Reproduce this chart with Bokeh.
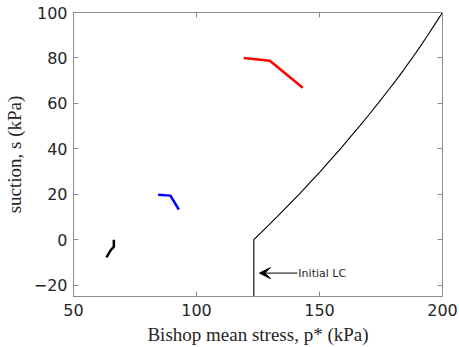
from bokeh.plotting import figure
from bokeh.models import (LinearAxis, FixedTicker, Range1d, Arrow, VeeHead, Label)
from bokeh.embed import file_html
from bokeh.resources import INLINE

# ---- data ----
lc_s = [-25, 0, 5, 10, 15, 20, 25, 30, 35, 40, 45, 50, 55, 60, 65, 70, 75, 80, 85, 90, 95, 100]
lc_p = [123.3, 123.3, 128.0, 132.7, 137.2, 141.7, 146.0, 150.3, 154.4, 158.5, 162.4, 166.3,
        170.1, 173.8, 177.4, 181.0, 184.4, 187.7, 190.9, 194.0, 197.0, 200.0]

red_p = [119.2, 129.8, 143.2]
red_s = [80.0, 78.8, 66.9]

blue_p = [84.4, 89.4, 92.8]
blue_s = [19.8, 19.4, 13.3]

black_p = [66.4, 66.4, 65.2, 63.4]
black_s = [0.0, -3.2, -4.5, -7.8]

x_ticks = [50, 100, 150, 200]
y_ticks = [-20, 0, 20, 40, 60, 80, 100]

annot_text = "Initial LC"
annot_p_tail = 141.0
annot_p_tip = 125.6
annot_s = -14.7

AX = "#8c8c8c"
TICK_FONT = "DejaVu Sans"
LABEL_FONT = "Liberation Serif"

p = figure(width=459, height=347, output_backend="svg", toolbar_location=None,
           x_range=Range1d(50, 200), y_range=Range1d(-25, 100),
           x_axis_label="Bishop mean stress, p* (kPa)",
           y_axis_label="suction, s (kPa)")
p.min_border_left = 73
p.min_border_right = 17
p.min_border_top = 12
p.min_border_bottom = 51
p.xgrid.visible = False
p.ygrid.visible = False
p.outline_line_color = None
p.background_fill_color = "white"
p.border_fill_color = "white"

for ax, ticks in ((p.xaxis[0], x_ticks), (p.yaxis[0], y_ticks)):
    ax.ticker = FixedTicker(ticks=ticks)
    ax.axis_line_color = AX
    ax.major_tick_line_color = AX
    ax.major_tick_in = 5
    ax.major_tick_out = 0
    ax.minor_tick_line_color = None
    ax.major_label_text_font = TICK_FONT
    ax.major_label_text_font_size = "16px"
    ax.major_label_text_color = "#262626"
    ax.axis_label_text_font = LABEL_FONT
    ax.axis_label_text_font_style = "normal"
    ax.axis_label_text_font_size = "19px"
    ax.axis_label_text_color = "#262626"
p.xaxis[0].major_label_standoff = 7
p.yaxis[0].major_label_standoff = 6
p.xaxis[0].axis_label_standoff = 5
p.yaxis[0].axis_label_standoff = 6

top = LinearAxis(ticker=FixedTicker(ticks=x_ticks), axis_line_color=AX,
                 major_tick_line_color=AX, major_tick_in=5, major_tick_out=0,
                 minor_tick_line_color=None,
                 major_label_overrides={t: "" for t in x_ticks})
right = LinearAxis(ticker=FixedTicker(ticks=y_ticks), axis_line_color=AX,
                   major_tick_line_color=AX, major_tick_in=5, major_tick_out=0,
                   minor_tick_line_color=None,
                   major_label_overrides={t: "" for t in y_ticks})
p.add_layout(top, "above")
p.add_layout(right, "right")

p.line(lc_p, lc_s, line_color="black", line_width=1.1)
p.line(red_p, red_s, line_color="#ff0000", line_width=2.5)
p.line(blue_p, blue_s, line_color="#0000ff", line_width=2.5)
p.line(black_p, black_s, line_color="black", line_width=2.5)

p.add_layout(Arrow(end=VeeHead(size=11, fill_color="black", line_color="black", line_width=1),
                   x_start=annot_p_tail, y_start=annot_s,
                   x_end=annot_p_tip, y_end=annot_s,
                   line_color="black", line_width=1))
p.add_layout(Label(x=annot_p_tail, y=annot_s, text=annot_text, text_font=TICK_FONT,
                   text_font_size="11px", text_baseline="middle", text_align="left",
                   x_offset=1, text_color="#262626"))

open("out.html", "w").write(file_html(p, INLINE))
